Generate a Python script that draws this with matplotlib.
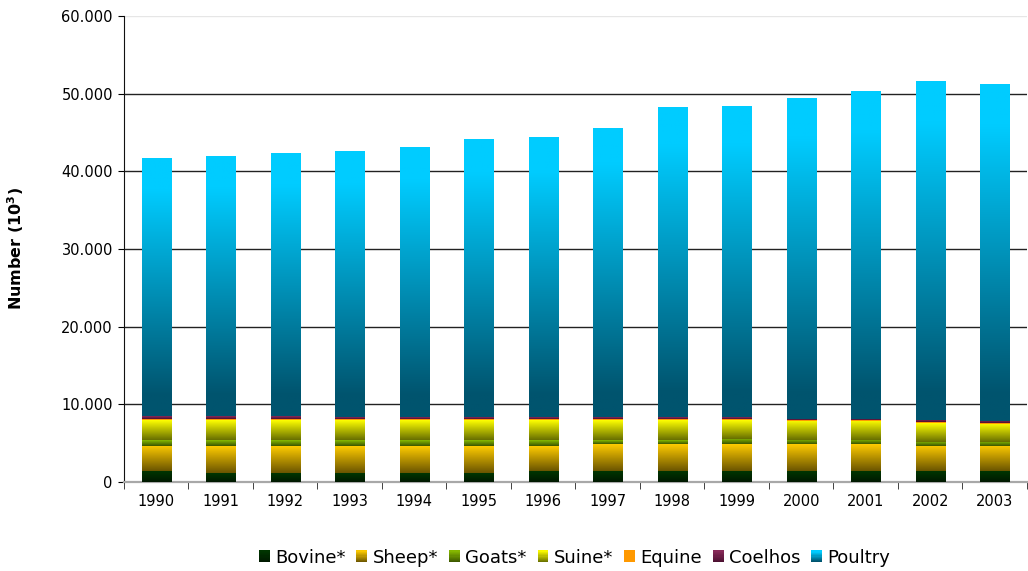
import numpy as np
import matplotlib.pyplot as plt
from matplotlib.colors import LinearSegmentedColormap
from matplotlib.patches import Rectangle, Patch
from matplotlib.legend_handler import HandlerBase
from matplotlib.ticker import FuncFormatter

years = ['1990', '1991', '1992', '1993', '1994', '1995', '1996',
         '1997', '1998', '1999', '2000', '2001', '2002', '2003']
# thousands of heads
bovine = [1380, 1150, 1150, 1150, 1150, 1150, 1400, 1400, 1400, 1400, 1400, 1400, 1400, 1400]
sheep = [3220, 3450, 3450, 3450, 3450, 3450, 3200, 3470, 3470, 3470, 3470, 3470, 3220, 3220]
goats = [770, 770, 770, 770, 770, 770, 770, 500, 500, 660, 530, 530, 530, 530]
suine = [2570, 2570, 2570, 2570, 2570, 2570, 2570, 2570, 2570, 2410, 2450, 2450, 2440, 2350]
equine = [200, 200, 200, 150, 150, 150, 150, 150, 150, 150, 60, 60, 100, 100]
coelhos = [320, 320, 320, 240, 240, 240, 240, 240, 240, 240, 200, 200, 260, 260]
poultry = [33110, 33370, 33750, 34180, 34660, 35690, 35940, 37100, 39800, 39930,
           41310, 42210, 43530, 43270]

names = ['Bovine*', 'Sheep*', 'Goats*', 'Suine*', 'Equine', 'Coelhos', 'Poultry']
values = [bovine, sheep, goats, suine, equine, coelhos, poultry]
# gradient stops, dark at the bottom to bright at the top
stops = [
    [(0, '#001800'), (1, '#003600')],
    [(0, '#6a5400'), (1, '#ffcc00')],
    [(0, '#3a5500'), (1, '#88bb00')],
    [(0, '#666e00'), (1, '#ffff00')],
    [(0, '#ff9900'), (1, '#ff9900')],
    [(0, '#4a1030'), (1, '#8a2a5a')],
    [(0, '#00546e'), (0.08, '#00546e'), (0.88, '#00ccff'), (1, '#00ccff')],
]
cmaps = [LinearSegmentedColormap.from_list(n, s) for n, s in zip(names, stops)]


class GradHandler(HandlerBase):
    def __init__(self, cmap, n=10):
        super().__init__()
        self.cmap = cmap
        self.n = n

    def create_artists(self, legend, orig_handle, xdescent, ydescent,
                       width, height, fontsize, trans):
        arts = []
        for i in range(self.n):
            r = Rectangle((-xdescent, -ydescent + height * i / self.n),
                          width, height / self.n + 0.2,
                          facecolor=self.cmap((i + 0.5) / self.n),
                          edgecolor='none', transform=trans)
            arts.append(r)
        return arts


fig = plt.figure(figsize=(10.28, 5.71), dpi=100)
ax = fig.add_axes([0.1206, 0.156, 0.8784, 0.816])

x = np.arange(len(years))
grad = np.linspace(0, 1, 256).reshape(-1, 1)
bottom = np.zeros(len(years))
for name, vals, cmap in zip(names, values, cmaps):
    bars = ax.bar(x, vals, 0.45, bottom=bottom, color='none', zorder=3)
    for b in bars:
        ax.imshow(grad, cmap=cmap, origin='lower', aspect='auto', zorder=3,
                  extent=(b.get_x(), b.get_x() + b.get_width(),
                          b.get_y(), b.get_y() + b.get_height()))
    bottom += np.array(vals)

ax.set_xlim(-0.5, len(years) - 0.5)
ax.set_ylim(0, 60000)
ax.set_yticks(np.arange(0, 60001, 10000))
ax.yaxis.set_major_formatter(FuncFormatter(lambda v, p: f'{int(v):,}'.replace(',', '.')))
for v in range(10000, 60000, 10000):
    ax.axhline(v, color='#222222', lw=1, zorder=1)
ax.axhline(60000, color='#e6e6e6', lw=1, zorder=1)

ax.set_xticks(x)
ax.set_xticklabels(years)
ax.set_xticks(np.arange(-0.5, len(years), 1), minor=True)
ax.tick_params(axis='x', which='major', length=0, pad=9, labelsize=10.5)
ax.tick_params(axis='x', which='minor', length=5, direction='out', color='#222222')
ax.tick_params(axis='y', length=4, pad=4, labelsize=10.5)

for s in ['top', 'right']:
    ax.spines[s].set_visible(False)
ax.spines['left'].set_color('#111111')
ax.spines['bottom'].set_color('#a8a8a8')
ax.spines['bottom'].set_linewidth(1.6)

ax.set_ylabel('Number (10$^\\mathbf{3}$)', fontsize=11.5, fontweight='bold')
ax.yaxis.set_label_coords(-0.109, 0.5)

handles = [Patch(label=n) for n in names]
hmap = {h: GradHandler(c) for h, c in zip(handles, cmaps)}
fig.legend(handles=handles, handler_map=hmap, loc='center', ncol=7,
           bbox_to_anchor=(0.559, 0.023), frameon=False, fontsize=13,
           handlelength=0.6, handleheight=0.6, handletextpad=0.3,
           columnspacing=0.6)

fig.savefig('out.png', dpi=100)
